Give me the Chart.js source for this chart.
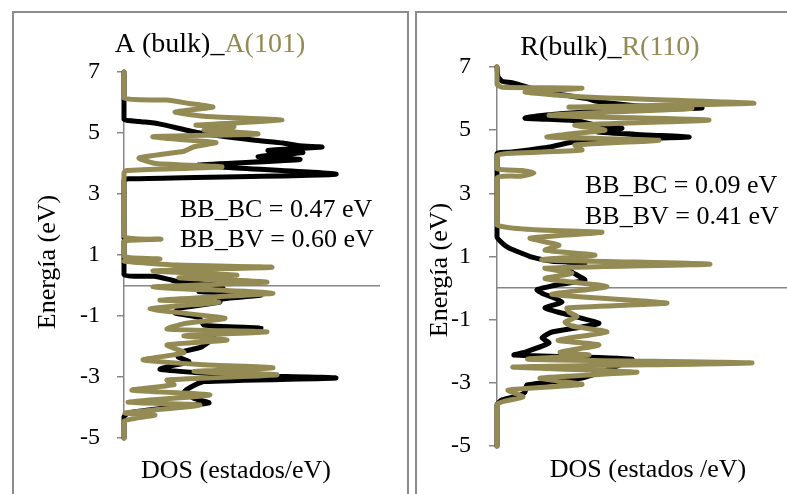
<!DOCTYPE html>
<html>
<head>
<meta charset="utf-8">
<title>DOS anatasa / rutilo</title>
<script src="https://cdn.jsdelivr.net/npm/chart.js@4/dist/chart.umd.min.js"></script>
<style>
  html, body { margin: 0; padding: 0; background: #fff; width: 787px; height: 494px; overflow: hidden; }
  .panel { position: absolute; top: 11px; height: 520px; box-sizing: border-box; border: 2px solid #8c8c8c; }
  #boxA { left: 12px; width: 397px; }
  #boxR { left: 415px; width: 420px; border-right: none; }
  canvas { position: absolute; }
  #chartA { left: 14px; top: 14px; }
  #chartR { left: 418px; top: 14px; }
</style>
</head>
<body>
<div class="panel" id="boxA"></div>
<div class="panel" id="boxR"></div>
<canvas id="chartA" width="392" height="480"></canvas>
<canvas id="chartR" width="369" height="480"></canvas>
<script>
// Energy axis ticks (eV)
const energyTicks = [-5, -3, -1, 1, 3, 5, 7];

// Anatase bulk: energy (eV) and DOS (arb. units)
const anataseBulkE   = [7.0, 6.1, 5.45, 5.38, 5.3, 5.0, 4.77, 4.67, 4.58, 4.54, 4.43, 4.36, 4.23, 4.13, 3.95, 3.88, 3.65, 3.5, 3.45,
                        1.55, 1.5, 1.45, 0.36, 0.3, 0.2, 0.12, 0.0, -0.1, -0.2, -0.31, -0.45, -0.54, -0.75, -0.9, -1.05, -1.3, -1.39,
                        -1.5, -1.7, -2.02, -2.2, -2.34, -2.5, -2.65, -2.75, -2.85, -2.95, -3.03, -3.15, -3.33, -3.5, -3.7, -3.85,
                        -4.0, -4.18, -4.3, -5.0];
const anataseBulkDos = [0, 0, 0, 1.5, 3.5, 7.6, 12.9, 15.9, 17.5, 19.8, 14.4, 17.9, 13.4, 17.6, 7.4, 10, 21.2, 1.5, 0,
                        0, 0.4, 0, 0, 3.0, 4.5, 5.5, 9.5, 9.9, 7.5, 13.7, 9.5, 9.6, 5.5, 5.1, 7.5, 8, 13.7,
                        8.5, 9, 7.7, 5.5, 5.4, 6.5, 4.5, 3.6, 7, 12, 21.2, 8, 6.7, 6, 7, 8.5,
                        4.5, 0.5, 0, 0];

// Anatase (101) surface
const anatase101E   = [7.0, 6.15, 6.08, 5.97, 5.85, 5.69, 5.55, 5.42, 5.26, 5.2, 5.1, 4.97, 4.88, 4.78, 4.69, 4.55, 4.4, 4.18, 4.0,
                       3.89, 3.77, 3.7, 1.62, 1.52, 1.45, 0.95, 0.87, 0.8, 0.67, 0.6, 0.48, 0.34, 0.25, 0.11, -0.05, -0.25, -0.48,
                       -0.55, -0.77, -1.07, -1.25, -1.43, -1.52, -1.65, -1.79, -1.95, -2.2, -2.44, -2.6, -2.7, -2.82, -2.93, -3.1,
                       -3.25, -3.43, -3.59, -3.82, -3.92, -4.18, -4.25, -4.45, -5.0];
const anatase101Dos = [0, 0, 4.3, 6.5, 8.9, 5.1, 8, 15.8, 7.2, 11, 8, 13.4, 2.9, 6, 9.2, 7, 6, 1.5, 3.2,
                       9.8, 0.3, 0, 0, 3.7, 0, 0, 3.6, 0, 5.4, 14.8, 2.9, 11.3, 5.5, 14.3, 2.9, 14.9, 3.6,
                       9.5, 2.6, 10.1, 6, 4.3, 14.3, 6, 10.3, 4.3, 6, 1.9, 8, 14.9, 7, 15.3, 4.3,
                       5, 0.8, 8.6, 0.4, 7.6, 0.1, 3.1, 0, 0];

// Rutile bulk
const rutileBulkE   = [7.0, 6.7, 6.55, 6.5, 6.2, 6.0, 5.92, 5.75, 5.7, 5.6, 5.45, 5.38, 5.3, 5.15, 5.06, 4.95, 4.85, 4.78, 4.65,
                       4.47, 4.3, 4.25, 1.62, 1.4, 1.27, 1.1, 0.98, 0.85, 0.79, 0.65, 0.5, 0.25, 0.1, -0.05, -0.16, -0.44, -0.63,
                       -0.85, -1.11, -1.23, -1.39, -1.58, -1.74, -2.03, -2.12, -2.25, -2.53, -2.85, -3.07, -3.29, -3.39, -3.54,
                       -3.7, -5.0];
const rutileBulkDos = [0, 0.1, 0.5, 1.5, 5, 9, 9.8, 15, 20.5, 10, 4, 2.8, 8, 10, 12.5, 10, 15, 19.2, 8,
                       5.3, 1.3, 0, 0, 0.6, 1.2, 2.5, 3.5, 5.5, 8.8, 7, 7.5, 8.8, 6, 4, 4.5, 6.5, 4.8,
                       7.2, 10.2, 8.5, 5.5, 4.5, 5.2, 2.8, 1.7, 13.5, 11.5, 8.5, 3, 2.8, 2.3, 0.5,
                       0, 0];

// Rutile (110) surface
const rutile110E   = [7.0, 6.45, 6.36, 6.33, 6.2, 6.04, 5.85, 5.73, 5.69, 5.47, 5.32, 5.16, 5.0, 4.9, 4.78, 4.68, 4.53, 4.37, 4.27,
                      4.2, 3.78, 3.72, 3.64, 3.55, 3.48, 2.0, 1.77, 1.58, 1.36, 1.2, 1.04, 0.9, 0.76, 0.63, 0.47, 0.3, 0.05, -0.2,
                      -0.47, -0.63, -0.76, -0.9, -1.08, -1.2, -1.39, -1.65, -1.8, -2.03, -2.12, -2.25, -2.37, -2.5, -2.66, -2.85,
                      -3.05, -3.23, -3.45, -3.68, -5.0];
const rutile110Dos = [0, 0, 0.5, 8.5, 2.8, 9.5, 25.7, 7.2, 19.5, 5.2, 21.2, 7.8, 10.8, 7.8, 5, 16.2, 7.8, 8.5, 1.5,
                      0, 0, 2.5, 3.7, 2.5, 0, 0, 10.5, 3.3, 6.2, 4.8, 9.8, 4.5, 21.3, 4.8, 7.5, 4.8, 11, 5.5,
                      17, 7, 7.2, 8, 6.8, 7.5, 11, 6.1, 10.2, 6.3, 9.2, 3.1, 25.5, 1.6, 14, 4.3,
                      8.5, 1.1, 2.6, 0, 0];

// Panel texts
const headingA = ['A (bulk)_', 'A(101)'];
const headingR = ['R(bulk)_', 'R(110)'];
const notesA = ['BB_BC = 0.47 eV', 'BB_BV = 0.60 eV'];
const notesR = ['BB_BC = 0.09 eV', 'BB_BV = 0.41 eV'];
const yTitle = 'Energía (eV)';
const xTitleA = 'DOS (estados/eV)';
const xTitleR = 'DOS (estados /eV)';

const AXIS_GREY = '#868686';
const BLACK = '#000000';
const OLIVE = '#948A54';
const FONT = "'Liberation Serif', 'Times New Roman', serif";

function toPoints(energy, dos) {
  return energy.map((e, i) => ({ x: dos[i], y: e }));
}

// Draws the two-colour heading, the band-bending notes and the axis titles
function panelText(cfg) {
  return {
    id: 'panelText',
    afterDraw(chart) {
      const ctx = chart.ctx;
      ctx.save();
      ctx.textBaseline = 'alphabetic';
      ctx.textAlign = 'left';
      ctx.font = '28px ' + FONT;
      const [p1, p2] = cfg.heading;
      const w1 = ctx.measureText(p1).width;
      const w2 = ctx.measureText(p2).width;
      const hx = cfg.headingX - (w1 + w2) / 2;
      ctx.fillStyle = BLACK;
      ctx.fillText(p1, hx, cfg.headingY);
      ctx.fillStyle = OLIVE;
      ctx.fillText(p2, hx + w1, cfg.headingY);

      ctx.font = '26px ' + FONT;
      ctx.fillStyle = BLACK;
      cfg.notes.forEach((t, i) => ctx.fillText(t, cfg.notesX, cfg.notesY + i * cfg.noteGap));

      ctx.textAlign = 'center';
      ctx.fillText(cfg.xTitle, cfg.xTitleX, cfg.xTitleY);

      ctx.translate(cfg.yTitleX, cfg.yTitleY);
      ctx.rotate(-Math.PI / 2);
      ctx.fillText(cfg.yTitle, 0, 0);
      ctx.restore();
    }
  };
}

function makeChart(id, series, opts) {
  return new Chart(document.getElementById(id), {
    type: 'scatter',
    data: {
      datasets: series.map(s => ({
        label: s.label,
        data: toPoints(s.energy, s.dos),
        showLine: true,
        borderColor: s.color,
        backgroundColor: s.color,
        borderWidth: 5,
        pointRadius: 0,
        tension: 0.18,
        clip: false,
        order: s.order,
        borderJoinStyle: 'round',
        borderCapStyle: 'round'
      }))
    },
    options: {
      responsive: false,
      animation: false,
      events: [],
      layout: { padding: opts.padding },
      plugins: { legend: { display: false }, tooltip: { enabled: false }, title: { display: false } },
      scales: {
        x: {
          type: 'linear', min: 0, max: opts.xMax,
          position: { y: 0 },
          ticks: { display: false },
          grid: { display: false, drawTicks: false },
          border: { display: true, color: AXIS_GREY, width: 1.5 }
        },
        y: {
          type: 'linear', min: -5, max: 7,
          afterFit: s => { s.width = opts.yWidth; },
          afterBuildTicks: s => { s.ticks = energyTicks.map(v => ({ value: v })); },
          ticks: { color: BLACK, padding: opts.tickPad, font: { family: FONT, size: 24 } },
          grid: { display: true, drawOnChartArea: false, drawTicks: true, tickLength: opts.tickLen, color: AXIS_GREY, lineWidth: 1.5 },
          border: { display: true, color: AXIS_GREY, width: 1.5 }
        }
      }
    },
    plugins: [panelText(opts.text)]
  });
}

makeChart('chartA', [
  { label: 'A (bulk)', energy: anataseBulkE, dos: anataseBulkDos, color: BLACK, order: 1 },
  { label: 'A(101)', energy: anatase101E, dos: anatase101Dos, color: OLIVE, order: 0 }
], {
  xMax: 25.5, yWidth: 110, tickLen: 7, tickPad: 17,
  padding: { top: 58, right: 27, bottom: 56, left: 0 },
  text: {
    heading: headingA, headingX: 196, headingY: 38,
    notes: notesA, notesX: 166, notesY: 203, noteGap: 30,
    xTitle: xTitleA, xTitleX: 222, xTitleY: 464,
    yTitle: yTitle, yTitleX: 41, yTitleY: 248
  }
});

makeChart('chartR', [
  { label: 'R(bulk)', energy: rutileBulkE, dos: rutileBulkDos, color: BLACK, order: 1 },
  { label: 'R(110)', energy: rutile110E, dos: rutile110Dos, color: OLIVE, order: 0 }
], {
  xMax: 29, yWidth: 79, tickLen: 8, tickPad: 18,
  padding: { top: 53, right: 0, bottom: 48, left: 0 },
  text: {
    heading: headingR, headingX: 192, headingY: 41,
    notes: notesR, notesX: 167, notesY: 179, noteGap: 31,
    xTitle: xTitleR, xTitleX: 230, xTitleY: 463,
    yTitle: yTitle, yTitleX: 29, yTitleY: 256
  }
});
</script>
</body>
</html>
